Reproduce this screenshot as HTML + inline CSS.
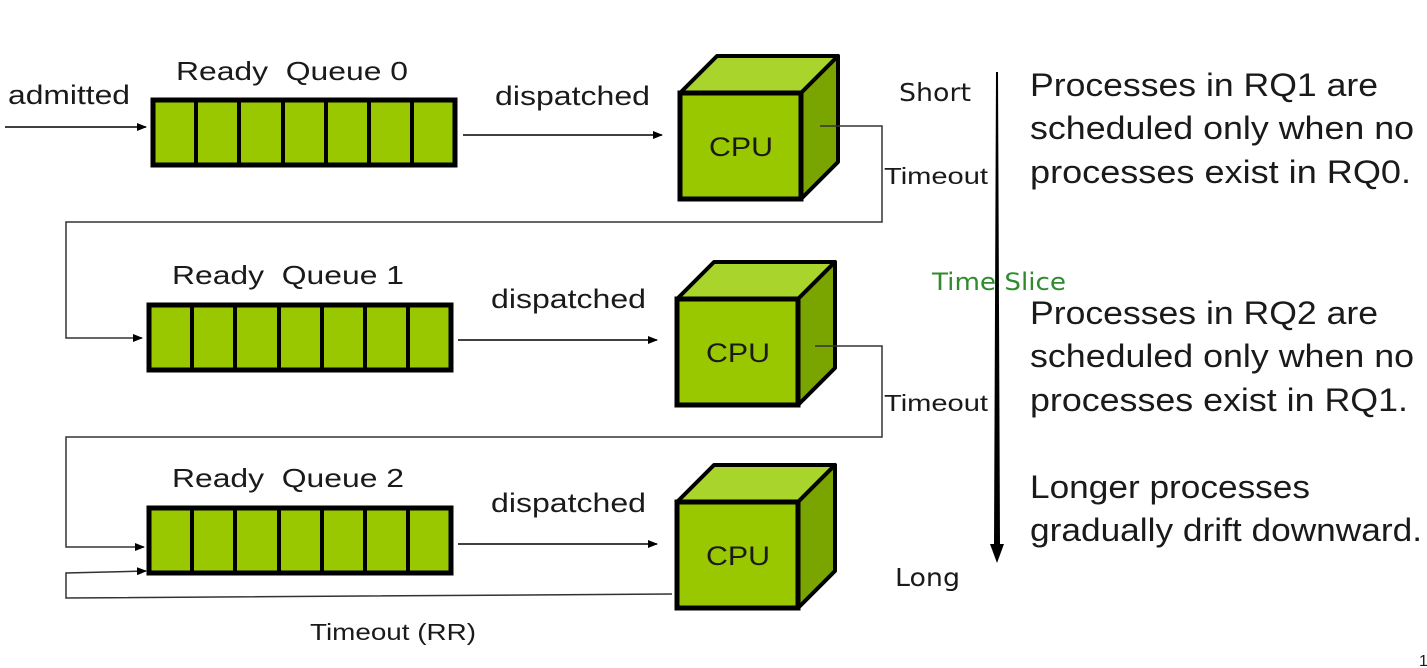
<!DOCTYPE html>
<html><head><meta charset="utf-8"><style>
html,body{margin:0;padding:0;background:#fff;}
svg{display:block;}
text{font-family:"Liberation Sans",Arial,sans-serif;fill:#1a1a1a;}
</style></head><body>
<svg width="1427" height="668" viewBox="0 0 1427 668" xmlns="http://www.w3.org/2000/svg">
<defs>
<marker id="ah" markerWidth="10" markerHeight="8" refX="9" refY="4" orient="auto" markerUnits="userSpaceOnUse">
<path d="M0,0 L10,4 L0,8 z" fill="#000"/></marker>
<g id="queue">
<rect x="0" y="0" width="302" height="65" fill="#99c800" stroke="#000" stroke-width="5"/>
<line x1="43" y1="0" x2="43" y2="65" stroke="#000" stroke-width="4"/>
<line x1="86" y1="0" x2="86" y2="65" stroke="#000" stroke-width="4"/>
<line x1="130" y1="0" x2="130" y2="65" stroke="#000" stroke-width="4"/>
<line x1="173" y1="0" x2="173" y2="65" stroke="#000" stroke-width="4"/>
<line x1="216" y1="0" x2="216" y2="65" stroke="#000" stroke-width="4"/>
<line x1="259" y1="0" x2="259" y2="65" stroke="#000" stroke-width="4"/>
</g>
<g id="cpu">
<path d="M0,37 L37,0 L158,0 L121,37 z" fill="#a9d42c" stroke="#000" stroke-width="4" stroke-linejoin="round"/>
<path d="M121,37 L158,0 L158,106 L121,143 z" fill="#7aa400" stroke="#000" stroke-width="4" stroke-linejoin="round"/>
<rect x="0" y="37" width="121" height="106" fill="#99c800" stroke="#000" stroke-width="5"/>
<text x="29" y="100" font-size="27" textLength="64" lengthAdjust="spacingAndGlyphs">CPU</text>
</g>
</defs>

<!-- Row 0 -->
<text x="8" y="104" font-size="27" textLength="122" lengthAdjust="spacingAndGlyphs">admitted</text>
<line x1="5" y1="127" x2="146" y2="127" stroke="#000" stroke-width="1.5" marker-end="url(#ah)"/>
<text x="176" y="80" font-size="26" textLength="232" lengthAdjust="spacingAndGlyphs">Ready&#160; Queue 0</text>
<use href="#queue" x="153" y="100"/>
<text x="495" y="105" font-size="27" textLength="155" lengthAdjust="spacingAndGlyphs">dispatched</text>
<line x1="463" y1="135" x2="662" y2="135" stroke="#000" stroke-width="1.5" marker-end="url(#ah)"/>
<use href="#cpu" x="680" y="56"/>
<polyline points="820,126 882,126 882,222 66,222 66,338 142,338" fill="none" stroke="#333" stroke-width="1.5" marker-end="url(#ah)"/>
<text x="884" y="184" font-size="23" textLength="104" lengthAdjust="spacingAndGlyphs">Timeout</text>

<!-- Row 1 -->
<text x="172" y="284" font-size="26" textLength="232" lengthAdjust="spacingAndGlyphs">Ready&#160; Queue 1</text>
<use href="#queue" x="149" y="305"/>
<text x="491" y="308" font-size="27" textLength="155" lengthAdjust="spacingAndGlyphs">dispatched</text>
<line x1="458" y1="340" x2="657" y2="340" stroke="#000" stroke-width="1.5" marker-end="url(#ah)"/>
<use href="#cpu" x="677" y="262"/>
<polyline points="815,346 882,346 882,437 66,437 66,547 144,547" fill="none" stroke="#333" stroke-width="1.5" marker-end="url(#ah)"/>
<text x="884" y="411" font-size="23" textLength="104" lengthAdjust="spacingAndGlyphs">Timeout</text>

<!-- Row 2 -->
<text x="172" y="487" font-size="26" textLength="232" lengthAdjust="spacingAndGlyphs">Ready&#160; Queue 2</text>
<use href="#queue" x="149" y="508"/>
<text x="491" y="512" font-size="27" textLength="155" lengthAdjust="spacingAndGlyphs">dispatched</text>
<line x1="458" y1="544" x2="657" y2="544" stroke="#000" stroke-width="1.5" marker-end="url(#ah)"/>
<use href="#cpu" x="677" y="465"/>
<polyline points="672,594 66,598 66,573 146,571" fill="none" stroke="#333" stroke-width="1.5" marker-end="url(#ah)"/>
<text x="310" y="640" font-size="23" textLength="166" lengthAdjust="spacingAndGlyphs">Timeout (RR)</text>

<!-- Time axis -->
<path d="M996,72 L998,72 L1000,545 L994,545 z" fill="#000"/>
<path d="M990,544 L1004,544 L997,563 z" fill="#000"/>
<text x="899" y="101" font-size="25" textLength="72" lengthAdjust="spacingAndGlyphs" style="font-family:'DejaVu Sans',sans-serif">Short</text>
<text x="895" y="586" font-size="25" textLength="65" lengthAdjust="spacingAndGlyphs" style="font-family:'DejaVu Sans',sans-serif">Long</text>
<text x="932" y="290" font-size="24" textLength="134" lengthAdjust="spacingAndGlyphs" style="font-family:'DejaVu Sans',sans-serif;fill:#2e8b2e">Time Slice</text>

<!-- Right text -->
<g font-size="32">
<text x="1030" y="96" textLength="348" lengthAdjust="spacingAndGlyphs">Processes in RQ1 are</text>
<text x="1030" y="139" textLength="384" lengthAdjust="spacingAndGlyphs">scheduled only when no</text>
<text x="1030" y="183" textLength="381" lengthAdjust="spacingAndGlyphs">processes exist in RQ0.</text>
<text x="1030" y="324" textLength="348" lengthAdjust="spacingAndGlyphs">Processes in RQ2 are</text>
<text x="1030" y="367" textLength="384" lengthAdjust="spacingAndGlyphs">scheduled only when no</text>
<text x="1030" y="411" textLength="378" lengthAdjust="spacingAndGlyphs">processes exist in RQ1.</text>
<text x="1030" y="498" textLength="280" lengthAdjust="spacingAndGlyphs">Longer processes</text>
<text x="1030" y="541" textLength="392" lengthAdjust="spacingAndGlyphs">gradually drift downward.</text>
</g>
<text x="1419" y="666" font-size="16">1</text>
</svg>
</body></html>
